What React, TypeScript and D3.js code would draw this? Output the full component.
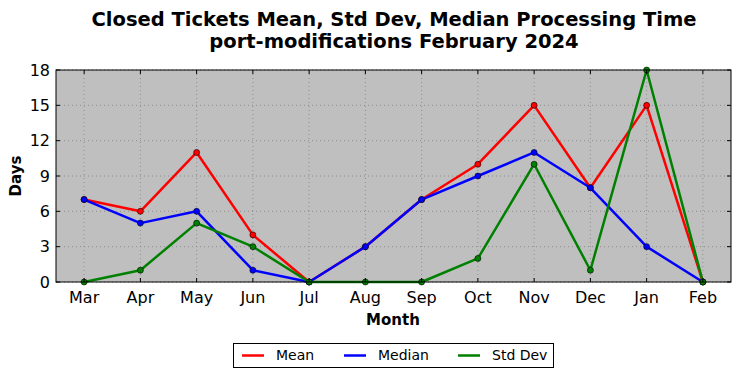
import React from "react";
import * as d3 from "d3";

const months = ["Mar", "Apr", "May", "Jun", "Jul", "Aug", "Sep", "Oct", "Nov", "Dec", "Jan", "Feb"];
const meanValues = [7, 6, 11, 4, 0, 3, 7, 10, 15, 8, 15, 0];
const medianValues = [7, 5, 6, 1, 0, 3, 7, 9, 11, 8, 3, 0];
const stdValues = [0, 1, 5, 3, 0, 0, 0, 2, 10, 1, 18, 0];
const yTicks = [0, 3, 6, 9, 12, 15, 18];

const series = [
  { name: "Mean", color: "#ff0000", values: meanValues },
  { name: "Median", color: "#0000ff", values: medianValues },
  { name: "Std Dev", color: "#008000", values: stdValues },
];

export default function App() {
  const W = 741, H = 378;
  const L = 56, R = 731, T = 70, B = 282;
  const x = d3.scaleLinear().domain([-0.5, months.length - 0.5]).range([L, R]);
  const y = d3.scaleLinear().domain([0, 18]).range([B, T]);
  const line = d3.line<number>().x((_, i) => x(i)).y((d) => y(d));
  const font = "DejaVu Sans, sans-serif";
  const legendX = [242, 344, 458];

  return (
    <svg width={W} height={H} style={{ position: "absolute", left: 0, top: 0 }} fontFamily={font}>
      <rect x={0} y={0} width={W} height={H} fill="#fff" />
      <text x={394} y={26} textAnchor="middle" fontSize={19.5} fontWeight="bold">Closed Tickets Mean, Std Dev, Median Processing Time</text>
      <text x={394} y={48} textAnchor="middle" fontSize={19.5} fontWeight="bold">port-modifications February 2024</text>
      <rect x={L} y={T} width={R - L} height={B - T} fill="#bfbfbf" />
      {yTicks.map((t) => (
        <line key={"gy" + t} x1={L} x2={R} y1={y(t)} y2={y(t)} stroke="#808080" strokeWidth={0.8} strokeDasharray="1,3" />
      ))}
      {months.map((m, i) => (
        <line key={"gx" + m} x1={x(i)} x2={x(i)} y1={T} y2={B} stroke="#808080" strokeWidth={0.8} strokeDasharray="1,3" />
      ))}
      {series.map((s) => (
        <g key={s.name}>
          <path d={line(s.values) || ""} fill="none" stroke={s.color} strokeWidth={2.5} strokeLinejoin="round" />
          {s.values.map((v, i) => (
            <circle key={i} cx={x(i)} cy={y(v)} r={3} fill={s.color} stroke="#000" strokeWidth={0.6} />
          ))}
        </g>
      ))}
      {yTicks.map((t) => (
        <g key={"ty" + t}>
          <line x1={L} x2={L + 4} y1={y(t)} y2={y(t)} stroke="#000" />
          <line x1={R} x2={R - 4} y1={y(t)} y2={y(t)} stroke="#000" />
          <text x={L - 6} y={y(t)} dy="0.35em" textAnchor="end" fontSize={16}>{t}</text>
        </g>
      ))}
      {months.map((m, i) => (
        <g key={"tx" + m}>
          <line x1={x(i)} x2={x(i)} y1={B} y2={B - 4} stroke="#000" />
          <line x1={x(i)} x2={x(i)} y1={T} y2={T + 4} stroke="#000" />
          <text x={x(i)} y={B + 21} textAnchor="middle" fontSize={16}>{m}</text>
        </g>
      ))}
      <rect x={L} y={T} width={R - L} height={B - T} fill="none" stroke="#000" strokeWidth={1} />
      <text x={393} y={325} textAnchor="middle" fontSize={15} fontWeight="bold">Month</text>
      <text transform={`translate(21,${(T + B) / 2}) rotate(-90)`} textAnchor="middle" fontSize={15} fontWeight="bold">Days</text>
      <rect x={233.5} y={343.5} width={320} height={24} fill="#fff" stroke="#000" strokeWidth={1} />
      {series.map((s, i) => {
        const lx = legendX[i];
        return (
          <g key={"lg" + s.name}>
            <line x1={lx} x2={lx + 22} y1={355.5} y2={355.5} stroke={s.color} strokeWidth={2.5} />
            <text x={lx + 34} y={355.5} dy="0.35em" fontSize={14}>{s.name}</text>
          </g>
        );
      })}
    </svg>
  );
}
